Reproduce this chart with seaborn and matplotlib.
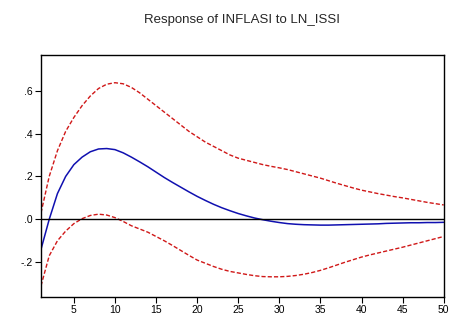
import numpy as np
import pandas as pd
import matplotlib
matplotlib.use("Agg")
import matplotlib.pyplot as plt
import seaborn as sns
from matplotlib.ticker import FuncFormatter

# impulse response, periods 1..50
periods = list(range(1, 51))
response = [-0.14, 0.00, 0.12, 0.20, 0.255, 0.29, 0.315, 0.328, 0.33, 0.325,
            0.31, 0.29, 0.268, 0.245, 0.22, 0.195, 0.172, 0.15, 0.128, 0.107,
            0.088, 0.07, 0.054, 0.04, 0.027, 0.016, 0.006, -0.002, -0.009, -0.015,
            -0.02, -0.023, -0.025, -0.026, -0.027, -0.027, -0.026, -0.025, -0.024, -0.023,
            -0.022, -0.021, -0.019, -0.018, -0.017, -0.016, -0.016, -0.015, -0.015, -0.014]
upper = [0.03, 0.2, 0.32, 0.41, 0.475, 0.53, 0.575, 0.61, 0.63, 0.637,
         0.632, 0.615, 0.59, 0.56, 0.53, 0.5, 0.47, 0.44, 0.41, 0.385,
         0.36, 0.34, 0.32, 0.3, 0.285, 0.275, 0.265, 0.255, 0.247, 0.24,
         0.232, 0.222, 0.212, 0.202, 0.192, 0.18, 0.168, 0.157, 0.146, 0.136,
         0.128, 0.12, 0.113, 0.106, 0.1, 0.093, 0.086, 0.079, 0.073, 0.067]
lower = [-0.31, -0.17, -0.1, -0.055, -0.02, 0.003, 0.018, 0.024, 0.02, 0.008,
         -0.01, -0.03, -0.045, -0.06, -0.08, -0.1, -0.122, -0.145, -0.168, -0.19,
         -0.205, -0.22, -0.233, -0.243, -0.25, -0.257, -0.263, -0.267, -0.268, -0.268,
         -0.266, -0.262, -0.256, -0.248, -0.238, -0.226, -0.213, -0.2, -0.188, -0.176,
         -0.166, -0.157, -0.148, -0.139, -0.13, -0.12, -0.11, -0.1, -0.09, -0.08]

xticks = [5, 10, 15, 20, 25, 30, 35, 40, 45, 50]
yticks = [-0.2, 0.0, 0.2, 0.4, 0.6]

df = pd.DataFrame({"period": periods, "response": response,
                   "upper": upper, "lower": lower})

sns.set_style("ticks")
plt.rcParams['font.family'] = ['Liberation Sans', 'DejaVu Sans']

fig = plt.figure(figsize=(4.53, 3.2), dpi=100)
ax = fig.add_axes([0.0905, 0.072, 0.889, 0.756])

sns.lineplot(data=df, x="period", y="upper", ax=ax, color="#d01818",
             linewidth=1.0, linestyle=(0, (3, 1.5)))
sns.lineplot(data=df, x="period", y="lower", ax=ax, color="#d01818",
             linewidth=1.0, linestyle=(0, (3, 1.5)))
sns.lineplot(data=df, x="period", y="response", ax=ax, color="#1010b0",
             linewidth=1.1)
ax.axhline(0, color="black", linewidth=1.0)

ax.set_xlim(1, 50)
ax.set_ylim(-0.362, 0.766)
ax.set_xticks(xticks)
ax.set_yticks(yticks)

def fmt(v, pos):
    s = "%.1f" % v
    return s.replace("0.", ".")

ax.yaxis.set_major_formatter(FuncFormatter(fmt))
ax.tick_params(axis="both", direction="out", length=4, width=0.8,
               labelsize=7.5, colors="black", pad=2)
for sp in ax.spines.values():
    sp.set_visible(True)
    sp.set_color("black")
    sp.set_linewidth(1.0)

ax.set_xlabel("")
ax.set_ylabel("")
fig.suptitle("Response of INFLASI to LN_ISSI", y=0.955, fontsize=9.5, x=0.535)

fig.savefig("out.png", dpi=100)
